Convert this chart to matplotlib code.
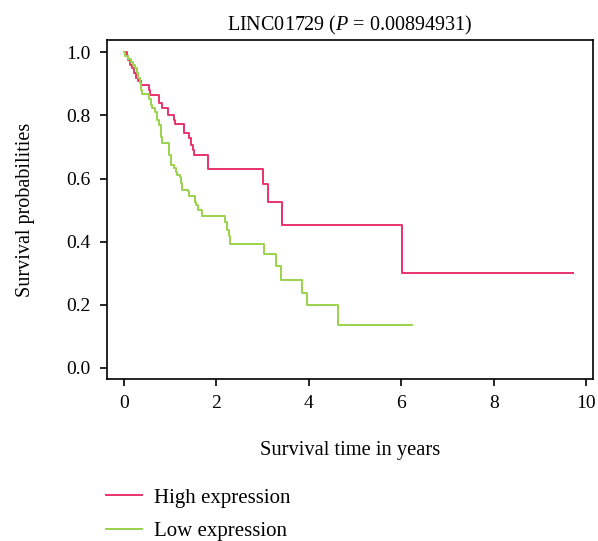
import matplotlib
matplotlib.use("Agg")
import matplotlib.pyplot as plt

# Kaplan-Meier step data (time in years, survival after the step)
high_t = [0.00, 0.06, 0.08, 0.13, 0.17, 0.22, 0.26, 0.30, 0.36, 0.53, 0.56, 0.76,
          0.82, 0.96, 1.08, 1.10, 1.30, 1.41, 1.45, 1.49, 1.52, 1.81, 3.00, 3.11,
          3.41, 6.01, 9.71]
high_s = [1.000, 0.987, 0.977, 0.961, 0.950, 0.935, 0.919, 0.909, 0.895, 0.881, 0.865, 0.839,
          0.824, 0.802, 0.786, 0.772, 0.744, 0.728, 0.707, 0.691, 0.675, 0.631, 0.582, 0.525,
          0.453, 0.301, 0.301]

low_t = [0.00, 0.01, 0.09, 0.14, 0.20, 0.24, 0.27, 0.31, 0.35, 0.36, 0.38, 0.53,
         0.58, 0.60, 0.67, 0.71, 0.76, 0.80, 0.82, 0.98, 1.02, 1.07, 1.13, 1.14,
         1.21, 1.23, 1.25, 1.39, 1.41, 1.54, 1.56, 1.59, 1.69, 2.19, 2.22, 2.26,
         2.29, 3.03, 3.28, 3.39, 3.86, 3.95, 4.63, 6.23]
low_s = [1.000, 0.988, 0.978, 0.970, 0.960, 0.949, 0.934, 0.918, 0.902, 0.881, 0.867, 0.851,
         0.833, 0.823, 0.812, 0.786, 0.770, 0.733, 0.712, 0.675, 0.643, 0.633, 0.622, 0.612,
         0.606, 0.585, 0.564, 0.561, 0.545, 0.527, 0.517, 0.499, 0.482, 0.461, 0.438, 0.419,
         0.393, 0.361, 0.322, 0.279, 0.237, 0.200, 0.137, 0.137]

labels = ["High expression", "Low expression"]
colors = ["#E8336B", "#9AD34E"]
x_ticks = [0, 2, 4, 6, 8, 10]
y_ticks = [0.0, 0.2, 0.4, 0.6, 0.8, 1.0]
title = "LINC01729 ($\\mathit{P}$ = 0.00894931)"

plt.rcParams["font.family"] = ["Liberation Serif", "DejaVu Serif"]
plt.rcParams["mathtext.fontset"] = "custom"
plt.rcParams["mathtext.it"] = "Liberation Serif:italic"
plt.rcParams["mathtext.rm"] = "Liberation Serif"

FS = 14

fig = plt.figure(figsize=(5.98, 5.41), dpi=100)
ax = fig.add_axes([0.1784, 0.2989, 0.9911 - 0.1784, 0.9261 - 0.2989])

l1, = ax.step(high_t, high_s, where="post", color=colors[0], lw=1.4)
l2, = ax.step(low_t, low_s, where="post", color=colors[1], lw=1.4)

ax.set_xlim(-0.376, 10.14)
ax.set_ylim(-0.036, 1.039)
ax.set_xticks(x_ticks)
ax.set_xticklabels([str(v) for v in x_ticks])
ax.set_yticks(y_ticks)
ax.set_yticklabels([f"{v:.1f}" for v in y_ticks])
ax.tick_params(axis="both", direction="out", length=5.3, width=1.2, labelsize=FS, pad=6)
for sp in ax.spines.values():
    sp.set_linewidth(1.2)

ax.set_title(title, fontsize=FS + 0.5, pad=7)
ax.set_xlabel("Survival time in years", fontsize=FS + 0.8, labelpad=21)
ax.set_ylabel("Survival probabilities", fontsize=FS + 0.5, labelpad=23)

fig.legend([l1, l2], labels, loc="upper left", bbox_to_anchor=(0.178, 0.098),
           frameon=False, fontsize=FS + 1, handlelength=1.7, handletextpad=0.6,
           labelspacing=0.68, borderaxespad=0, borderpad=0)

fig.savefig("out.png", dpi=100)
